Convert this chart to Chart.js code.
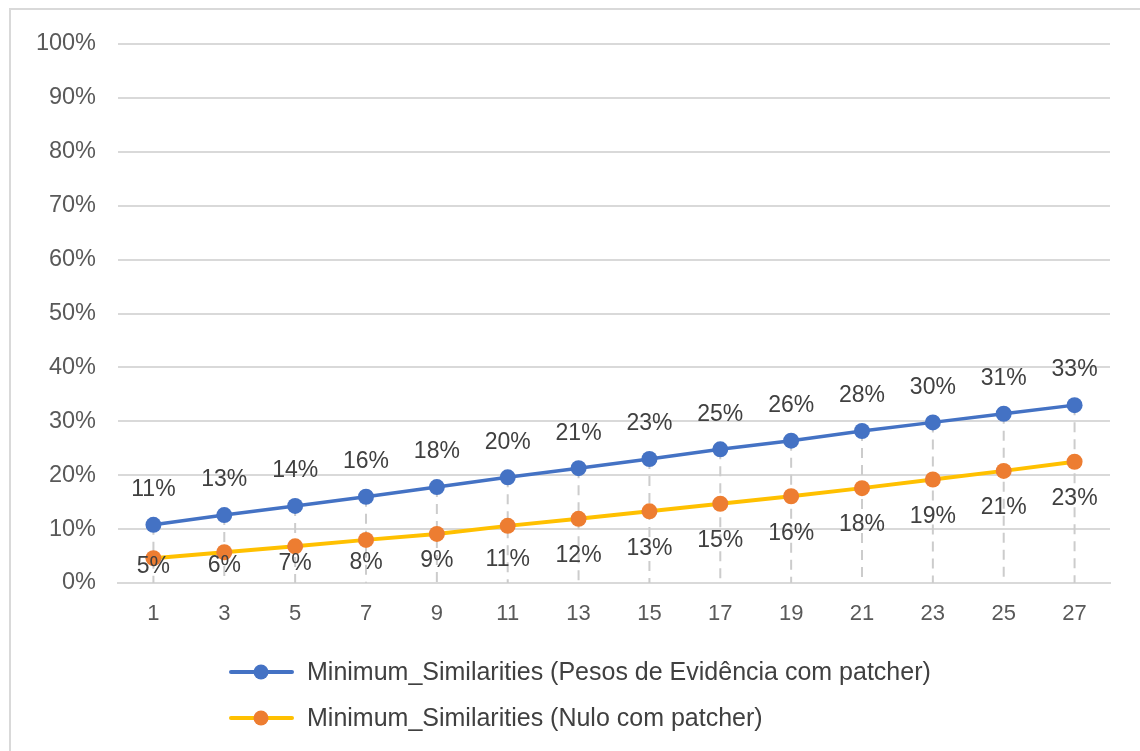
<!DOCTYPE html>
<html>
<head>
<meta charset="utf-8">
<script src="https://cdn.jsdelivr.net/npm/chart.js@4"></script>
<style>
  html, body { margin: 0; padding: 0; background: #fff; }
  #wrap { position: relative; width: 1140px; height: 751px; overflow: hidden; }
  #frame { position: absolute; left: 9px; top: 8px; width: 1200px; height: 800px; border: 2px solid #d9d9d9; box-sizing: border-box; }
  canvas { position: absolute; left: 0; top: 0; }
</style>
</head>
<body>
<div id="wrap">
  <div id="frame"></div>
  <canvas id="chart" width="1140" height="751"></canvas>
</div>
<script>
// data (percent)
const categories = ["1", "3", "5", "7", "9", "11", "13", "15", "17", "19", "21", "23", "25", "27"];
const pesosValues = [10.8, 12.6, 14.3, 16.0, 17.8, 19.6, 21.3, 23.0, 24.8, 26.4, 28.2, 29.8, 31.4, 33.0];
const nuloValues = [4.6, 5.7, 6.8, 8.0, 9.1, 10.6, 11.9, 13.3, 14.7, 16.1, 17.6, 19.2, 20.8, 22.5];
const seriesNames = [
  "Minimum_Similarities (Pesos de Evidência com patcher)",
  "Minimum_Similarities (Nulo com patcher)"
];

const FONT = "'Liberation Sans', Arial, sans-serif";

// dashed drop lines from the upper series down to the axis
const dropLines = {
  id: "dropLines",
  beforeDatasetsDraw(chart) {
    const ctx = chart.ctx;
    const meta = chart.getDatasetMeta(0);
    const y0 = chart.scales.y.getPixelForValue(0);
    ctx.save();
    ctx.strokeStyle = "#cccccc";
    ctx.lineWidth = 2;
    ctx.setLineDash([10, 7]);
    meta.data.forEach(function (p) {
      ctx.beginPath();
      ctx.moveTo(p.x, p.y);
      ctx.lineTo(p.x, y0);
      ctx.stroke();
    });
    ctx.restore();
  }
};

// value labels, above the blue series and below the orange one
const valueLabels = {
  id: "valueLabels",
  afterDatasetsDraw(chart) {
    const ctx = chart.ctx;
    const bottom = chart.chartArea.bottom;
    ctx.save();
    ctx.font = "23px " + FONT;
    ctx.fillStyle = "#404040";
    ctx.textAlign = "center";
    ctx.textBaseline = "middle";
    chart.data.datasets.forEach(function (ds, i) {
      chart.getDatasetMeta(i).data.forEach(function (p, j) {
        const txt = Math.round(ds.data[j]) + "%";
        let y;
        if (i === 0) {
          y = p.y - 35;
        } else {
          y = Math.min(p.y + 37, bottom - 16 - j * 1.5);
        }
        ctx.fillText(txt, p.x, y);
      });
    });
    ctx.restore();
  }
};

// legend drawn by hand, left aligned rows
const customLegend = {
  id: "customLegend",
  afterDraw(chart) {
    const ctx = chart.ctx;
    const rowsY = [672, 718];
    ctx.save();
    ctx.font = "25px " + FONT;
    ctx.textBaseline = "middle";
    chart.data.datasets.forEach(function (ds, i) {
      const y = rowsY[i];
      ctx.strokeStyle = ds.borderColor;
      ctx.lineWidth = 4;
      ctx.lineCap = "round";
      ctx.beginPath();
      ctx.moveTo(231, y);
      ctx.lineTo(292, y);
      ctx.stroke();
      ctx.fillStyle = ds.pointBackgroundColor;
      ctx.beginPath();
      ctx.arc(261, y, 7.5, 0, Math.PI * 2);
      ctx.fill();
      ctx.fillStyle = "#404040";
      ctx.fillText(ds.label, 307, y + 1);
    });
    ctx.restore();
  }
};

const ctx = document.getElementById("chart").getContext("2d");
new Chart(ctx, {
  type: "line",
  data: {
    labels: categories,
    datasets: [
      {
        label: seriesNames[0],
        data: pesosValues,
        borderColor: "#4472C4",
        backgroundColor: "#4472C4",
        pointBackgroundColor: "#4472C4",
        pointBorderColor: "#4472C4",
        borderWidth: 3.5,
        pointRadius: 8,
        pointBorderWidth: 0,
        tension: 0
      },
      {
        label: seriesNames[1],
        data: nuloValues,
        borderColor: "#FFC000",
        backgroundColor: "#ED7D31",
        pointBackgroundColor: "#ED7D31",
        pointBorderColor: "#ED7D31",
        borderWidth: 4,
        pointRadius: 8,
        pointBorderWidth: 0,
        tension: 0
      }
    ]
  },
  options: {
    responsive: false,
    animation: false,
    layout: { padding: { top: 44, right: 30, left: 0, bottom: 0 } },
    plugins: {
      legend: { display: false },
      tooltip: { enabled: false }
    },
    scales: {
      x: {
        offset: true,
        grid: { display: false, drawTicks: false },
        border: { display: true, color: "#d9d9d9", width: 2 },
        ticks: {
          padding: 18,
          color: "#595959",
          font: { family: FONT, size: 22 }
        },
        afterFit: function (scale) { scale.height = 168; }
      },
      y: {
        min: 0,
        max: 100,
        grid: { color: "#d9d9d9", lineWidth: 2, drawTicks: false },
        border: { display: false },
        ticks: {
          stepSize: 10,
          padding: 22,
          color: "#595959",
          font: { family: FONT, size: 23.5 },
          callback: function (v) { return v + "%"; }
        },
        afterFit: function (scale) { scale.width = 118; }
      }
    }
  },
  plugins: [dropLines, valueLabels, customLegend]
});
</script>
</body>
</html>
